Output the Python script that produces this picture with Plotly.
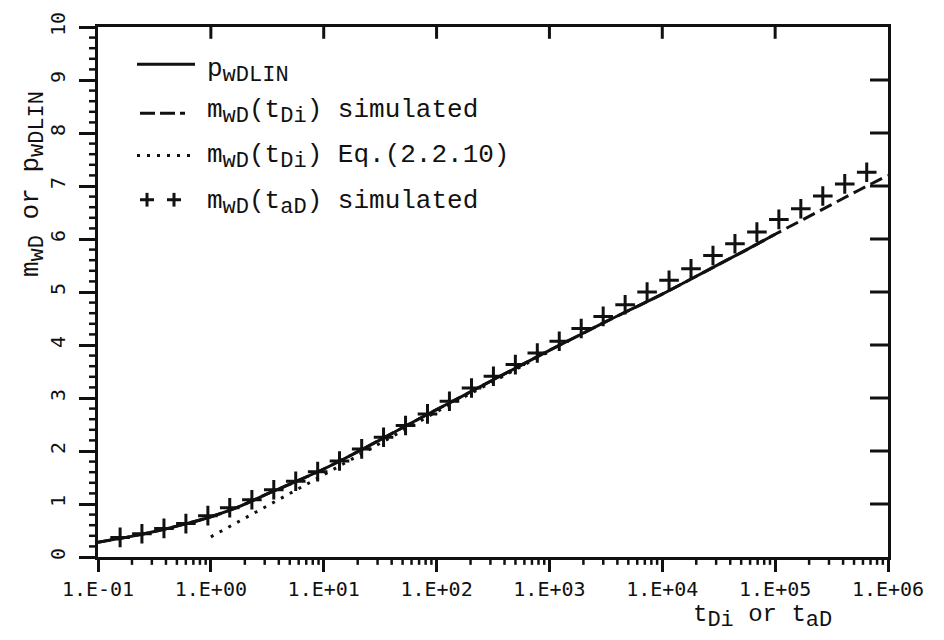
import math
import plotly.graph_objects as go

# ---- data -------------------------------------------------------------
# p_wDLIN (solid)
t_lin = [0.1, 0.178, 0.316, 0.562, 1.0, 1.78, 3.16, 5.62, 10, 17.8, 31.6, 56.2,
         100, 178, 316, 562, 1e3, 1.78e3, 3.16e3, 5.62e3, 1e4, 1.78e4, 3.16e4,
         5.62e4, 1e5]
p_lin = [0.28, 0.37, 0.48, 0.61, 0.76, 0.95, 1.19, 1.42, 1.66, 1.93, 2.21, 2.50,
         2.78, 3.06, 3.34, 3.62, 3.90, 4.17, 4.44, 4.70, 4.96, 5.24, 5.52,
         5.80, 6.09]

# m_wD(t_Di) simulated (dashed)
t_sim = [0.1, 0.178, 0.316, 0.562, 1.0, 1.78, 3.16, 5.62, 10, 17.8, 31.6, 56.2,
         100, 178, 316, 562, 1e3, 1.78e3, 3.16e3, 5.62e3, 1e4, 1.78e4, 3.16e4,
         5.62e4, 1e5, 1.78e5, 3.16e5, 5.62e5, 1e6]
m_sim = [0.28, 0.37, 0.48, 0.61, 0.76, 0.95, 1.19, 1.42, 1.66, 1.93, 2.21, 2.50,
         2.78, 3.06, 3.34, 3.62, 3.90, 4.17, 4.44, 4.70, 4.96, 5.24, 5.52,
         5.80, 6.09, 6.37, 6.65, 6.93, 7.20]

# m_wD(t_Di) from Eq.(2.2.10) (dotted)
t_eq = [1.0, 10, 100, 1000]
m_eq = [0.38, 1.55, 2.74, 3.88]

# m_wD(t_aD) simulated (plus markers)
t_ad = [0.157, 0.245, 0.384, 0.601, 0.941, 1.47, 2.31, 3.61, 5.65, 8.84,
        13.8, 21.7, 33.9, 53.1, 83.1, 130, 204, 319, 499, 781,
        1222, 1912, 2994, 4686, 7335, 11480, 17970, 28130, 44040, 68920,
        107900, 168900, 264400, 413800, 647800]
m_ad = [0.37, 0.44, 0.54, 0.63, 0.78, 0.93, 1.08, 1.27, 1.43, 1.61,
        1.81, 2.04, 2.26, 2.48, 2.70, 2.94, 3.19, 3.41, 3.63, 3.85,
        4.07, 4.31, 4.54, 4.76, 5.00, 5.22, 5.44, 5.69, 5.91, 6.13,
        6.37, 6.57, 6.81, 7.04, 7.26]

x_major = [0.1, 1, 10, 100, 1e3, 1e4, 1e5, 1e6]
x_labels = ["1.E-01", "1.E+00", "1.E+01", "1.E+02", "1.E+03", "1.E+04",
            "1.E+05", "1.E+06"]
y_major = list(range(0, 11))
x_top = [1, 10, 100, 1e3, 1e4, 1e5]
y_right = list(range(1, 10))
x_minor = [m * d for d in [0.1, 1, 10, 100, 1e3, 1e4, 1e5] for m in range(2, 10)]
y_minor = [round(i * 0.2, 1) for i in range(1, 50) if i % 5]

# ---- geometry ---------------------------------------------------------
W, H = 944, 640
L, R, T, B = 98, 56, 17, 83
PW, PH = W - L - R, H - T - B
XLO, XHI = -1, 6
YLO, YHI = 0, 10

def px(x):
    return (x - L) / PW

def py(y):
    return (H - B - y) / PH

def xfrac(v):
    return (math.log10(v) - XLO) / (XHI - XLO)

def yfrac(v):
    return (v - YLO) / (YHI - YLO)

MONO = "Liberation Mono"
TICKF = "DejaVu Sans Mono"
INK = "#111111"

fig = go.Figure()

fig.add_trace(go.Scatter(x=t_lin, y=p_lin, mode="lines",
                         line=dict(color=INK, width=3), line_shape="spline",
                         showlegend=False))
fig.add_trace(go.Scatter(x=t_sim, y=m_sim, mode="lines",
                         line=dict(color=INK, width=3, dash="13px,6px"),
                         line_shape="spline", showlegend=False))
fig.add_trace(go.Scatter(x=t_eq, y=m_eq, mode="lines",
                         line=dict(color=INK, width=3, dash="3px,7px"),
                         showlegend=False))
fig.add_trace(go.Scatter(x=t_ad, y=m_ad, mode="markers",
                         marker=dict(symbol="cross-thin", size=14,
                                     line=dict(color=INK, width=3)),
                         showlegend=False))

fig.update_layout(
    width=W, height=H,
    margin=dict(l=L, r=R, t=T, b=B),
    paper_bgcolor="white", plot_bgcolor="white",
    xaxis=dict(type="log", range=[XLO, XHI], showgrid=False, zeroline=False,
               showline=True, linecolor=INK, linewidth=3, mirror=True,
               ticks="outside", ticklen=12, tickwidth=3, tickcolor=INK,
               tickmode="array", tickvals=x_major, ticktext=x_labels,
               tickfont=dict(family=TICKF, size=20, color=INK)),
    yaxis=dict(range=[YLO, YHI], showgrid=False, zeroline=False,
               showline=True, linecolor=INK, linewidth=3, mirror=True,
               ticks="outside", ticklen=16, tickwidth=3, tickcolor=INK,
               tickmode="array", tickvals=y_major, tickangle=-90,
               ticklabelstandoff=6,
               tickfont=dict(family=TICKF, size=20, color=INK)),
)

# frame ticks: minor ticks outside bottom/left, major ticks inside top/right
shapes = []
tick = dict(type="line", xref="paper", yref="paper", layer="above")
for v in x_minor:
    f = xfrac(v)
    shapes.append(dict(tick, x0=f, x1=f, y0=0, y1=-8 / PH,
                       line=dict(color=INK, width=2.5)))
for v in y_minor:
    f = yfrac(v)
    shapes.append(dict(tick, x0=0, x1=-9 / PW, y0=f, y1=f,
                       line=dict(color=INK, width=2.5)))
for v in x_top:
    f = xfrac(v)
    shapes.append(dict(tick, x0=f, x1=f, y0=1, y1=1 - 12 / PH,
                       line=dict(color=INK, width=3)))
for v in y_right:
    f = yfrac(v)
    shapes.append(dict(tick, x0=1, x1=1 - 18 / PW, y0=f, y1=f,
                       line=dict(color=INK, width=3)))

SUBF = 'font-size:22px'

def sub(s):
    return f'<sub><span style="{SUBF}">{s}</span></sub>'

# axis titles
fig.add_annotation(xref="paper", yref="paper", x=px(33), y=py(177),
                   text=f"m{sub('wD')} or p{sub('wDLIN')}", textangle=-90,
                   showarrow=False, xanchor="center", yanchor="middle",
                   font=dict(family=MONO, size=26, color=INK))
fig.add_annotation(xref="paper", yref="paper", x=px(762), y=py(618),
                   text=f"t{sub('Di')} or t{sub('aD')}",
                   showarrow=False, xanchor="center", yanchor="middle",
                   font=dict(family=MONO, size=24, color=INK))

# legend block
legend_rows = [
    (62, f"p{sub('wDLIN')}"),
    (104, f"m{sub('wD')}(t{sub('Di')}) simulated"),
    (149, f"m{sub('wD')}(t{sub('Di')}) Eq.(2.2.10)"),
    (196, f"m{sub('wD')}(t{sub('aD')}) simulated"),
]
for yy, txt in legend_rows:
    fig.add_annotation(xref="paper", yref="paper", x=px(205), y=py(yy),
                       text=txt, showarrow=False, xanchor="left",
                       yanchor="middle",
                       font=dict(family=MONO, size=26, color=INK))

shapes += [
    dict(type="line", xref="paper", yref="paper", x0=px(137), x1=px(195),
         y0=py(55), y1=py(55), line=dict(color=INK, width=3)),
    dict(type="line", xref="paper", yref="paper", x0=px(140), x1=px(185),
         y0=py(105), y1=py(105), line=dict(color=INK, width=3, dash="15px,5px")),
    dict(type="line", xref="paper", yref="paper", x0=px(137), x1=px(196),
         y0=py(148), y1=py(148), line=dict(color=INK, width=3, dash="3px,7px")),
]
for cx in (147, 174):
    shapes.append(dict(type="line", xref="paper", yref="paper",
                       x0=px(cx - 7), x1=px(cx + 7), y0=py(193), y1=py(193),
                       line=dict(color=INK, width=3)))
    shapes.append(dict(type="line", xref="paper", yref="paper",
                       x0=px(cx), x1=px(cx), y0=py(186), y1=py(200),
                       line=dict(color=INK, width=3)))
fig.update_layout(shapes=shapes)

fig.write_html("out.html")
